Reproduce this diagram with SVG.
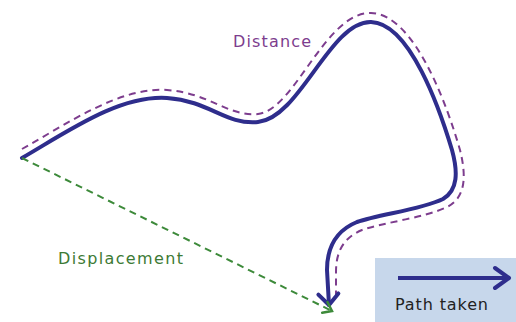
<svg xmlns="http://www.w3.org/2000/svg" width="516" height="322" viewBox="0 0 516 322">
<style>
.path{fill:none;stroke:#2e2d8c;stroke-width:4;stroke-linecap:round;stroke-linejoin:round}
.dist{fill:none;stroke:#7d3d8e;stroke-width:2;stroke-dasharray:7,5}
.disp{fill:none;stroke:#3d8a3a;stroke-width:2;stroke-dasharray:7,5}
text{font-family:"DejaVu Sans","Verdana",sans-serif;font-size:16px}
</style>
<defs>
<marker id="ab" markerUnits="userSpaceOnUse" markerWidth="30" markerHeight="30" orient="auto" overflow="visible">
<path d="M-11,-10 L0,0 L-11,10" fill="none" stroke="#2e2d8c" stroke-width="4" stroke-linecap="round" stroke-linejoin="round"/>
</marker>
<marker id="ag" markerUnits="userSpaceOnUse" markerWidth="20" markerHeight="20" orient="auto" overflow="visible">
<path d="M-8,-6 L0,0 L-8,6" fill="none" stroke="#3d8a3a" stroke-width="2.5" stroke-linecap="round"/>
</marker>
<marker id="al" markerUnits="userSpaceOnUse" markerWidth="30" markerHeight="30" orient="auto" overflow="visible">
<path d="M-14,-10 L0,0 L-14,10" fill="none" stroke="#2e2d8c" stroke-width="4" stroke-linecap="round" stroke-linejoin="round"/>
</marker>
</defs>
<g id="connectors">
<path class="dist" d="M22,149 C70,122 120,87 167,90 C210,93 228,117 258,114 C295,110 325,12 371,13 C415,14 448,108 460,150 C467,178 465,198 447,207 C424,218 385,222 362,230 C343,238 336,252 336,272 L336,297"/>
<path class="path" d="M22,158 C70,130 120,95 167,98 C210,101 225,125 258,122 C300,118 330,21 371,22 C410,23 440,110 452,150 C458,172 458,190 443,199 C420,210 380,214 357,222 C335,231 327,248 327,270 L329,305" marker-end="url(#ab)"/>
<path class="disp" d="M22,158 L332,311" marker-end="url(#ag)"/>
</g>
<g id="distance-label">
<text x="233" y="47" fill="#7d3d8e" textLength="78">Distance</text>
</g>
<g id="displacement-label">
<text x="58" y="264" fill="#3d7a35" textLength="125">Displacement</text>
</g>
<g id="legend">
<rect x="375" y="258" width="141" height="64" fill="#c7d7eb"/>
<path d="M398,278 L509,278" stroke="#2e2d8c" stroke-width="4" fill="none" marker-end="url(#al)"/>
<text x="395" y="310" fill="#222" textLength="93">Path taken</text>
</g>
</svg>
